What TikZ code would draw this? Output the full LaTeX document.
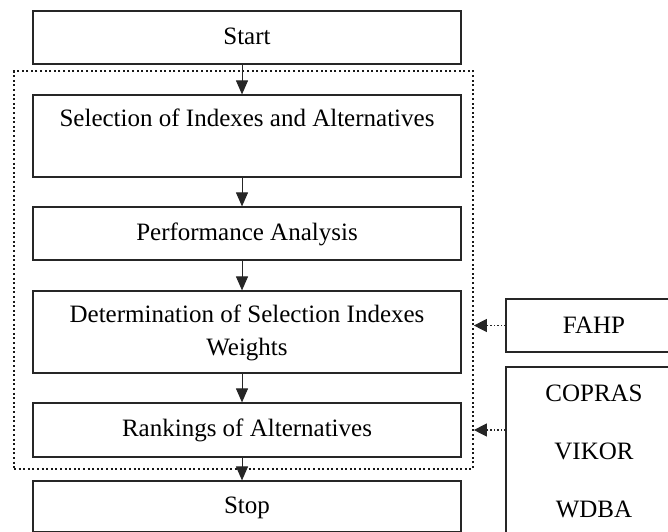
\documentclass[tikz,border=0pt]{standalone}
\usepackage{fontspec}
\setmainfont{Liberation Serif}
\usetikzlibrary{arrows.meta}

\begin{document}
\begin{tikzpicture}[x=1pt,y=-1pt,
    pbox/.style={draw=black!85,line width=1.2pt,minimum width=428pt,inner sep=0pt,align=center,font=\fontsize{25}{33}\selectfont},
    mbox/.style={draw=black!85,line width=1.2pt,minimum width=176pt,inner sep=0pt,align=center,font=\fontsize{25}{58}\selectfont},
    region/.style={draw=black!90,line width=1.7pt,dash pattern=on 2pt off 2.6pt,minimum width=459pt,minimum height=398pt,inner sep=0pt},
    flow/.style={-{Triangle[length=14pt,width=12pt]},line width=1pt,black!85},
    feed/.style={-{Triangle[length=13pt,width=13pt]},line width=1.3pt,dash pattern=on 1.4pt off 2pt,black!85}]
    \clip (0,0) rectangle (668,531);

    \node[region] (grp) at (243.5,270) {};
    \node[pbox,minimum height=53pt] (start) at (247,37.5) {\strut Start};
    \node[pbox,minimum height=82pt] (sel) at (247,136) {\strut Selection of Indexes and Alternatives\\\strut};
    \node[pbox,minimum height=53pt] (perf) at (247,233.5) {\strut Performance Analysis};
    \node[pbox,minimum height=82pt] (det) at (247,332) {\strut Determination of Selection Indexes\\Weights\strut};
    \node[pbox,minimum height=54pt] (rank) at (247,430) {\strut Rankings of Alternatives};
    \node[pbox,minimum height=51pt] (stop) at (247,506.5) {\strut Stop};

    \node[mbox,minimum height=53pt] (fahp) at (594,325.5) {FAHP};
    \node[mbox,minimum height=168pt] (meth) at (594,451) {COPRAS\\VIKOR\\WDBA};

    \draw[flow] ([xshift=-5]start.south) -- ([xshift=-5]sel.north);
    \draw[flow] ([xshift=-5]sel.south) -- ([xshift=-5]perf.north);
    \draw[flow] ([xshift=-5]perf.south) -- ([xshift=-5]det.north);
    \draw[flow] ([xshift=-5]det.south) -- ([xshift=-5]rank.north);
    \draw[flow] ([xshift=-5]rank.south) -- ([xshift=-5]stop.north);

    \draw[feed] (fahp.west) -- (fahp.west -| grp.east);
    \draw[feed] (meth.west |- rank) -- (rank -| grp.east);
\end{tikzpicture}
\end{document}
